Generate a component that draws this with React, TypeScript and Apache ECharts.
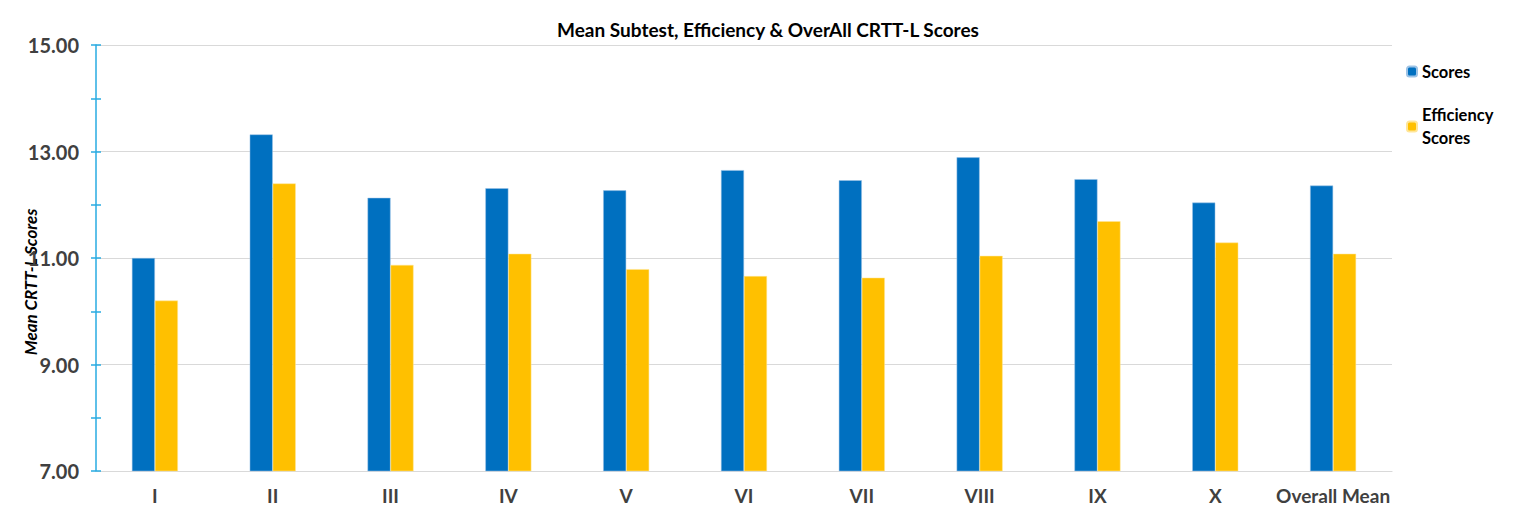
import React, { useEffect, useRef } from "react";
import * as echarts from "echarts";

const categories = ["I", "II", "III", "IV", "V", "VI", "VII", "VIII", "IX", "X", "Overall Mean"];
const scores = [11.0, 13.32, 12.13, 12.31, 12.27, 12.65, 12.46, 12.89, 12.48, 12.04, 12.36];
const efficiencyScores = [10.2, 12.4, 10.87, 11.08, 10.79, 10.66, 10.63, 11.04, 11.69, 11.29, 11.08];
const seriesNames = ["Scores", "Efficiency Scores"];
const titleText = "Mean Subtest, Efficiency & OverAll CRTT-L Scores";
const yAxisTitle = "Mean CRTT-L Scores";

const FONT = "Lato, 'Open Sans', sans-serif";

export default function App() {
  const ref = useRef<HTMLDivElement>(null);
  useEffect(() => {
    document.body.style.margin = "0";
    if (!ref.current) return;
    const chart = echarts.init(ref.current, undefined, { renderer: "svg" });
    const yCommon = {
      type: "value",
      min: 7,
      max: 15,
      interval: 2,
    };
    chart.setOption({
      animation: false,
      textStyle: { fontFamily: FONT },
      title: {
        text: titleText,
        left: "center",
        top: 15,
        textStyle: { fontSize: 19, fontWeight: "bold", color: "#000", fontFamily: FONT },
      },
      legend: [
        {
          data: [seriesNames[0]],
          orient: "vertical",
          left: 1406,
          top: 60,
          padding: 0,
          itemWidth: 10,
          itemHeight: 10,
          selectedMode: false,
          textStyle: { fontSize: 16.5, fontWeight: "bold", color: "#000", lineHeight: 23, fontFamily: FONT },
        },
        {
          data: [seriesNames[1]],
          orient: "vertical",
          left: 1406,
          top: 92,
          padding: 0,
          itemWidth: 10,
          itemHeight: 10,
          selectedMode: false,
          formatter: () => "Efficiency\nScores",
          textStyle: {
            fontSize: 16.5,
            fontWeight: "bold",
            color: "#000",
            lineHeight: 23,
            padding: [23, 0, 0, 0],
            fontFamily: FONT,
          },
        },
      ],
      grid: { left: 96, right: 144, top: 45, bottom: 60, containLabel: false },
      xAxis: {
        type: "category",
        data: categories,
        axisLine: { lineStyle: { color: "#D9D9D9", width: 1.2 } },
        axisTick: { show: false },
        axisLabel: {
          fontSize: 19,
          fontWeight: "bold",
          color: "#404040",
          margin: 15,
          interval: 0,
          fontFamily: FONT,
        },
      },
      yAxis: [
        {
          ...yCommon,
          axisLine: { show: true, lineStyle: { color: "#29ABE2", width: 1.5 } },
          axisTick: { show: true, length: 5, lineStyle: { color: "#29ABE2", width: 1.5 } },
          minorTick: { show: true, splitNumber: 2, length: 5, lineStyle: { color: "#29ABE2", width: 1.5 } },
          splitLine: { show: true, lineStyle: { color: "#D9D9D9", width: 1.2 } },
          axisLabel: {
            fontSize: 20,
            fontWeight: "bold",
            color: "#404040",
            margin: 17,
            formatter: (v: number) => v.toFixed(2),
            fontFamily: FONT,
          },
        },
        {
          ...yCommon,
          position: "left",
          axisLine: { show: false },
          axisTick: { show: true, inside: true, length: 5, lineStyle: { color: "#29ABE2", width: 1.5 } },
          minorTick: { show: true, splitNumber: 2, length: 5, lineStyle: { color: "#29ABE2", width: 1.5 } },
          splitLine: { show: false },
          axisLabel: { show: false },
        },
      ],
      graphic: [
        {
          type: "text",
          x: 30,
          y: 282,
          rotation: Math.PI / 2,
          style: {
            text: yAxisTitle,
            fontSize: 17,
            fontWeight: "bold",
            fontStyle: "italic",
            fill: "#000",
            align: "center",
            verticalAlign: "middle",
            fontFamily: FONT,
          },
        },
      ],
      series: [
        {
          name: seriesNames[0],
          type: "bar",
          data: scores,
          barWidth: 23,
          barGap: "0%",
          itemStyle: { color: "#0070C0", borderColor: "#9DC3E6", borderWidth: 0.5 },
        },
        {
          name: seriesNames[1],
          type: "bar",
          data: efficiencyScores,
          barWidth: 23,
          barGap: "0%",
          itemStyle: { color: "#FFC000", borderColor: "#FFE699", borderWidth: 0.5 },
        },
      ],
    });
    return () => chart.dispose();
  }, []);
  return <div ref={ref} style={{ width: 1536, height: 531 }} />;
}
